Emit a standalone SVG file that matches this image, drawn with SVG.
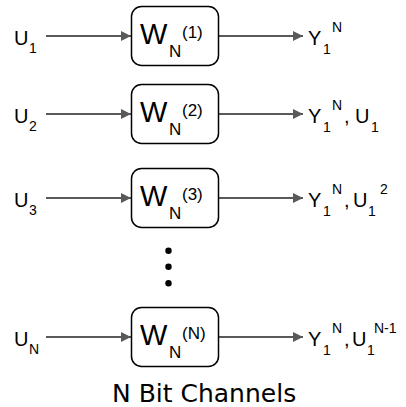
<svg xmlns="http://www.w3.org/2000/svg" width="406" height="407" viewBox="0 0 406 407">
  <style>
    .lbl { font-family: "Liberation Sans", Arial, sans-serif; font-size: 20px; fill: #000; }
    .sub { font-family: "Liberation Sans", Arial, sans-serif; font-size: 14px; fill: #000; }
    .w { font-family: "Liberation Sans", Arial, sans-serif; font-size: 29px; fill: #000; }
    .wsub { font-family: "Liberation Sans", Arial, sans-serif; font-size: 17px; fill: #000; }
    .box { fill: #fff; stroke: #000; stroke-width: 1.5; }
    .edge { stroke: #595959; stroke-width: 2; fill: none; marker-end: url(#arrow); }
    .title { font-family: "DejaVu Sans", sans-serif; font-size: 25px; fill: #000; }
  </style>
  <defs>
    <marker id="arrow" viewBox="0 0 10 10" refX="10" refY="5" markerWidth="6.5" markerHeight="5" markerUnits="strokeWidth" orient="auto">
      <path d="M0,0 L10,5 L0,10 z" fill="#595959"/>
    </marker>
  </defs>

  <rect width="406" height="407" fill="#fff"/>

  <!-- connectors -->
  <g id="connectors">
    <line class="edge" x1="46" y1="36" x2="131" y2="36"/>
    <line class="edge" x1="219" y1="36" x2="303" y2="36"/>
    <line class="edge" x1="46" y1="114" x2="131" y2="114"/>
    <line class="edge" x1="219" y1="114" x2="303" y2="114"/>
    <line class="edge" x1="46" y1="198" x2="131" y2="198"/>
    <line class="edge" x1="219" y1="198" x2="303" y2="198"/>
    <line class="edge" x1="46" y1="337" x2="131" y2="337"/>
    <line class="edge" x1="219" y1="337" x2="303" y2="337"/>
  </g>

  <!-- channel 1 -->
  <g id="channel1">
    <text class="lbl" x="14" y="45">U</text><text class="sub" x="29" y="53">1</text>
    <rect class="box" x="131.5" y="6.5" width="87" height="59" rx="10"/>
    <text class="w" x="140" y="44">W</text><text class="wsub" x="169" y="57">N</text><text class="wsub" x="182" y="38">(1)</text>
    <text class="lbl" x="308" y="45">Y</text><text class="sub" x="323" y="54">1</text><text class="sub" x="332" y="32">N</text>
  </g>

  <!-- channel 2 -->
  <g id="channel2">
    <text class="lbl" x="14" y="123">U</text><text class="sub" x="29" y="131">2</text>
    <rect class="box" x="131.5" y="84.5" width="87" height="59" rx="10"/>
    <text class="w" x="140" y="122">W</text><text class="wsub" x="169" y="135">N</text><text class="wsub" x="182" y="116">(2)</text>
    <text class="lbl" x="308" y="123">Y</text><text class="sub" x="323" y="132">1</text><text class="sub" x="332" y="110">N</text>
    <text class="lbl" x="344" y="123">,</text>
    <text class="lbl" x="355" y="123">U</text><text class="sub" x="371" y="132">1</text>
  </g>

  <!-- channel 3 -->
  <g id="channel3">
    <text class="lbl" x="14" y="207">U</text><text class="sub" x="29" y="215">3</text>
    <rect class="box" x="131.5" y="168.5" width="87" height="59" rx="10"/>
    <text class="w" x="140" y="206">W</text><text class="wsub" x="169" y="219">N</text><text class="wsub" x="182" y="200">(3)</text>
    <text class="lbl" x="308" y="207">Y</text><text class="sub" x="323" y="216">1</text><text class="sub" x="332" y="194">N</text>
    <text class="lbl" x="344" y="207">,</text>
    <text class="lbl" x="353" y="207">U</text><text class="sub" x="368" y="216">1</text><text class="sub" x="380" y="194">2</text>
  </g>

  <!-- ellipsis between channel 3 and channel N -->
  <g id="ellipsis" fill="#000">
    <circle cx="168.5" cy="250.7" r="3.2"/>
    <circle cx="168.5" cy="266.7" r="3.2"/>
    <circle cx="168.5" cy="283.3" r="3.2"/>
  </g>

  <!-- channel N -->
  <g id="channelN">
    <text class="lbl" x="14" y="346">U</text><text class="sub" x="29" y="354">N</text>
    <rect class="box" x="131.5" y="307.5" width="87" height="59" rx="10"/>
    <text class="w" x="140" y="345">W</text><text class="wsub" x="169" y="358">N</text><text class="wsub" x="182" y="339">(N)</text>
    <text class="lbl" x="308" y="346">Y</text><text class="sub" x="323" y="355">1</text><text class="sub" x="332" y="333">N</text>
    <text class="lbl" x="344" y="346">,</text>
    <text class="lbl" x="352" y="346">U</text><text class="sub" x="367" y="355">1</text><text class="sub" x="374" y="333">N-1</text>
  </g>

  <text id="caption" class="title" x="112" y="402">N Bit Channels</text>
</svg>
